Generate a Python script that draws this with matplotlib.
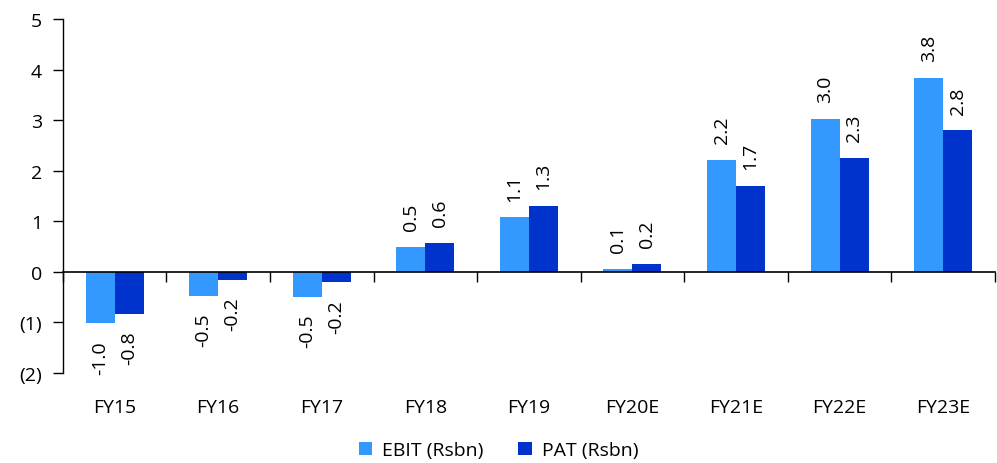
import matplotlib.pyplot as plt
import numpy as np

years = ['FY15', 'FY16', 'FY17', 'FY18', 'FY19', 'FY20E', 'FY21E', 'FY22E', 'FY23E']
ebit = [-1.02, -0.47, -0.50, 0.50, 1.08, 0.06, 2.22, 3.02, 3.83]
pat = [-0.83, -0.16, -0.21, 0.57, 1.30, 0.16, 1.70, 2.26, 2.80]

c_ebit = '#3399FF'
c_pat = '#0033CC'
fs = 14

plt.rcParams['font.family'] = ['Open Sans', 'DejaVu Sans']

fig = plt.figure(figsize=(9.97, 4.64), dpi=100)
ax = fig.add_axes([0.063, 0.194, 0.935, 0.763])

x = np.arange(len(years))
width = 0.28
b1 = ax.bar(x - width / 2, ebit, width, color=c_ebit, label='EBIT (Rsbn)')
b2 = ax.bar(x + width / 2, pat, width, color=c_pat, label='PAT (Rsbn)')

# value labels, rotated, sitting just past each bar end
for bars, vals in ((b1, ebit), (b2, pat)):
    for rect, v in zip(bars, vals):
        cx = rect.get_x() + rect.get_width() / 2
        if v >= 0:
            ax.annotate(f'{v:.1f}', (cx, v), xytext=(0, 12), textcoords='offset points',
                        rotation=90, ha='center', va='bottom', fontsize=fs)
        else:
            ax.annotate(f'{v:.1f}', (cx, v), xytext=(0, -12), textcoords='offset points',
                        rotation=90, ha='center', va='top', fontsize=fs)

ax.set_xlim(-0.5, len(years) - 0.5)
ax.set_ylim(-2, 5)
ax.set_yticks(range(-2, 6))
ax.set_yticklabels(['(2)', '(1)', '0', '1', '2', '3', '4', '5'], fontsize=fs)

ax.spines['top'].set_visible(False)
ax.spines['right'].set_visible(False)
ax.spines['bottom'].set_position(('data', 0))
ax.spines['bottom'].set_linewidth(1.2)
ax.spines['left'].set_linewidth(1.0)

# category boundary ticks on the zero line, names below the plot
ax.set_xticks(np.arange(-0.5, len(years), 1.0))
ax.set_xticklabels([])
ax.tick_params(axis='x', direction='out', length=7, width=1.0)
ax.tick_params(axis='y', direction='out', length=7, width=1.0, pad=8)
for i, name in enumerate(years):
    ax.text(i, -0.096, name, transform=ax.get_xaxis_transform(),
            ha='center', va='center', fontsize=fs)

fig.legend(loc='center', bbox_to_anchor=(0.5, 0.027), ncol=2, frameon=False,
           fontsize=fs, handlelength=0.7, handleheight=0.7, columnspacing=1.8,
           handletextpad=0.5)

fig.savefig('out.png', dpi=100)
